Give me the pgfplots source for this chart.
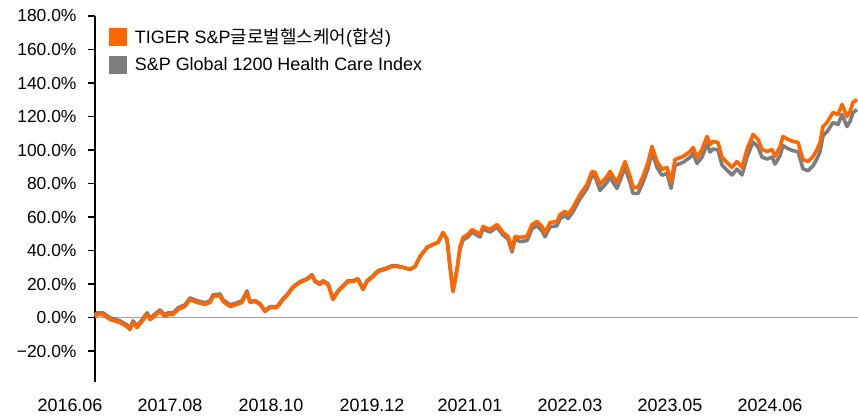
\documentclass[border=0pt]{standalone}
\usepackage{pgfplots}
\pgfplotsset{compat=1.18}
\usepackage{pgfplotstable}
\usepackage{fontspec}
\setmainfont{Liberation Sans}
\newfontfamily\kr{Noto Sans CJK KR}
\definecolor{tigerorange}{RGB}{255,102,0}
\definecolor{idxgray}{RGB}{125,125,125}
\definecolor{zerogray}{RGB}{160,160,160}

\pgfplotstableread{
x tiger gray
95 0.6 1.6
97 1.8 2.8
103 1.8 2.8
110 -1.2 -0.2
120 -3.0 -2.0
127 -5.4 -4.4
130 -7.2 -6.2
133 -3.0 -2.0
137 -6.0 -5.0
142 -2.4 -1.4
147 1.8 2.8
150 -1.2 -0.2
153 0.0 1.0
160 3.6 4.6
165 0.6 1.6
168 1.8 2.8
173 1.8 2.8
178 4.8 5.8
185 6.6 7.6
190 10.7 11.7
197 9.0 10.0
205 7.8 8.8
210 9.0 10.0
213 12.5 13.5
220 13.1 14.1
223 9.6 10.6
230 6.6 7.6
237 7.8 8.8
242 9.0 10.0
247 14.9 15.9
250 9.0 9.5
255 9.6 10.1
260 7.8 8.3
265 3.6 4.1
270 6.0 6.5
277 6.0 6.5
283 10.7 11.2
287 13.1 13.6
293 17.9 18.4
300 20.9 21.4
307 22.7 23.2
312 25.1 25.6
315 21.5 22.0
320 19.7 20.2
323 21.5 22.0
328 19.7 20.2
333 10.7 11.2
338 15.5 16.0
343 18.5 19.0
348 21.5 22.0
353 21.5 22.0
358 22.7 23.2
363 16.7 17.2
367 21.5 22.0
372 23.9 24.4
378 27.5 28.0
385 28.7 29.2
392 30.4 30.9
397 30.4 30.9
403 29.9 29.9
410 28.7 28.7
415 30.4 30.4
420 36.4 36.4
427 41.8 41.8
433 43.6 43.6
438 44.8 44.8
443 50.7 50.7
447 46.6 46.6
450 30.4 30.4
453 15.5 15.5
457 28.7 28.7
460 42.4 40.9
463 47.8 46.3
468 49.6 48.1
472 52.5 51.0
477 50.7 49.2
480 49.6 48.1
483 54.3 52.8
490 52.5 51.0
497 55.5 54.0
503 50.7 49.2
508 48.4 46.9
512 40.6 39.1
515 48.4 46.9
520 47.8 45.3
527 48.4 45.9
532 55.5 53.0
537 57.3 54.8
542 54.3 51.8
545 50.7 48.2
550 56.7 54.2
557 57.3 54.8
560 61.5 59.0
565 63.3 60.8
568 61.5 59.0
573 65.7 63.2
580 73.4 70.9
587 79.4 76.9
592 87.2 84.7
595 86.6 84.1
600 79.4 75.9
607 84.2 80.7
610 87.2 83.7
613 84.2 80.7
617 80.6 77.1
622 88.4 84.9
625 93.1 89.6
630 84.2 80.7
633 77.6 74.1
638 77.6 74.1
643 84.2 80.7
648 92.5 89.0
652 102.1 98.6
657 93.1 89.6
662 88.4 84.9
667 89.6 86.1
671 80.6 77.1
675 94.3 90.8
683 96.1 92.6
690 99.1 95.6
693 101.5 98.0
697 95.5 92.0
702 100.3 95.8
707 108.1 103.6
710 103.3 98.8
713 105.1 100.6
718 104.5 100.0
722 95.5 91.0
727 92.5 88.0
732 89.6 85.1
737 93.1 88.6
742 89.6 85.1
747 100.3 95.8
753 109.3 104.8
758 106.3 101.8
762 100.3 95.8
767 99.1 94.6
772 100.3 95.8
775 96.1 91.6
780 102.1 96.6
783 108.1 102.6
788 106.3 100.8
793 105.1 99.6
798 104.5 99.0
803 94.3 88.8
808 93.1 87.6
813 96.1 90.6
817 100.3 94.8
820 104.5 99.0
823 114.0 108.5
827 116.4 110.9
833 122.4 116.4
838 121.2 115.2
842 127.2 121.2
847 120.0 114.0
850 123.0 117.0
853 128.4 122.4
857 130.1 124.1
}\perf

\begin{document}
\begin{tikzpicture}[x=1bp,y=1bp]
\path[use as bounding box] (0,0) rectangle (858,418);
\begin{axis}[
  at={(95bp,36bp)}, anchor=south west,
  scale only axis, width=763bp, height=366bp,
  xmin=95, xmax=858, ymin=-38.5, ymax=180,
  axis lines*=left,
  x axis line style={draw=none},
  y axis line style={black, line width=1.6bp, -},
  xtick={95,195,296,397,495,595,695,795},
  xticklabels={2016.06,2017.08,2018.10,2019.12,2021.01,2022.03,2023.05,2024.06},
  xtick style={draw=none},
  xticklabel style={font=\fontsize{18}{20}\selectfont, anchor=north, xshift=-25bp, yshift=-13bp},
  ytick={-20,0,20,40,60,80,100,120,140,160,180},
  yticklabels={−20.0\%,0.0\%,20.0\%,40.0\%,60.0\%,80.0\%,100.0\%,120.0\%,140.0\%,160.0\%,180.0\%},
  ytick align=outside, major tick length=7bp,
  ytick style={black, line width=1.2bp},
  yticklabel style={font=\fontsize{17.5}{20}\selectfont, xshift=-8bp},
  clip=false,
]
\draw[zerogray, line width=1.8bp] (axis cs:95,0) -- (axis cs:858,0);
\addplot[color=idxgray, line width=3.6bp, line join=round] table[x=x,y=gray]{\perf};
\addplot[color=tigerorange, line width=3.6bp, line join=round] table[x=x,y=tiger]{\perf};
\end{axis}
\begin{axis}[
  at={(95bp,36bp)}, anchor=south west,
  scale only axis, width=763bp, height=366bp,
  xmin=95, xmax=858, ymin=-38.5, ymax=180,
  hide axis,
  legend cell align=left,
  legend style={at={(rel axis cs:0.018,0.972)}, anchor=north west, draw=none, fill=none,
    font=\fontsize{18}{21}\selectfont, row sep=9bp, inner xsep=0pt, inner ysep=0pt,
    /tikz/every odd column/.append style={column sep=6bp}},
  legend image code/.code={\path[#1,draw=none,fill] (0bp,-9bp) rectangle (18bp,9bp);},
]
\addlegendimage{color=tigerorange}
\addlegendentry{TIGER S\&P{\kr 글로벌헬스케어}({\kr 합성})}
\addlegendimage{color=idxgray}
\addlegendentry{S\&P Global 1200 Health Care Index}
\end{axis}
\end{tikzpicture}
\end{document}
